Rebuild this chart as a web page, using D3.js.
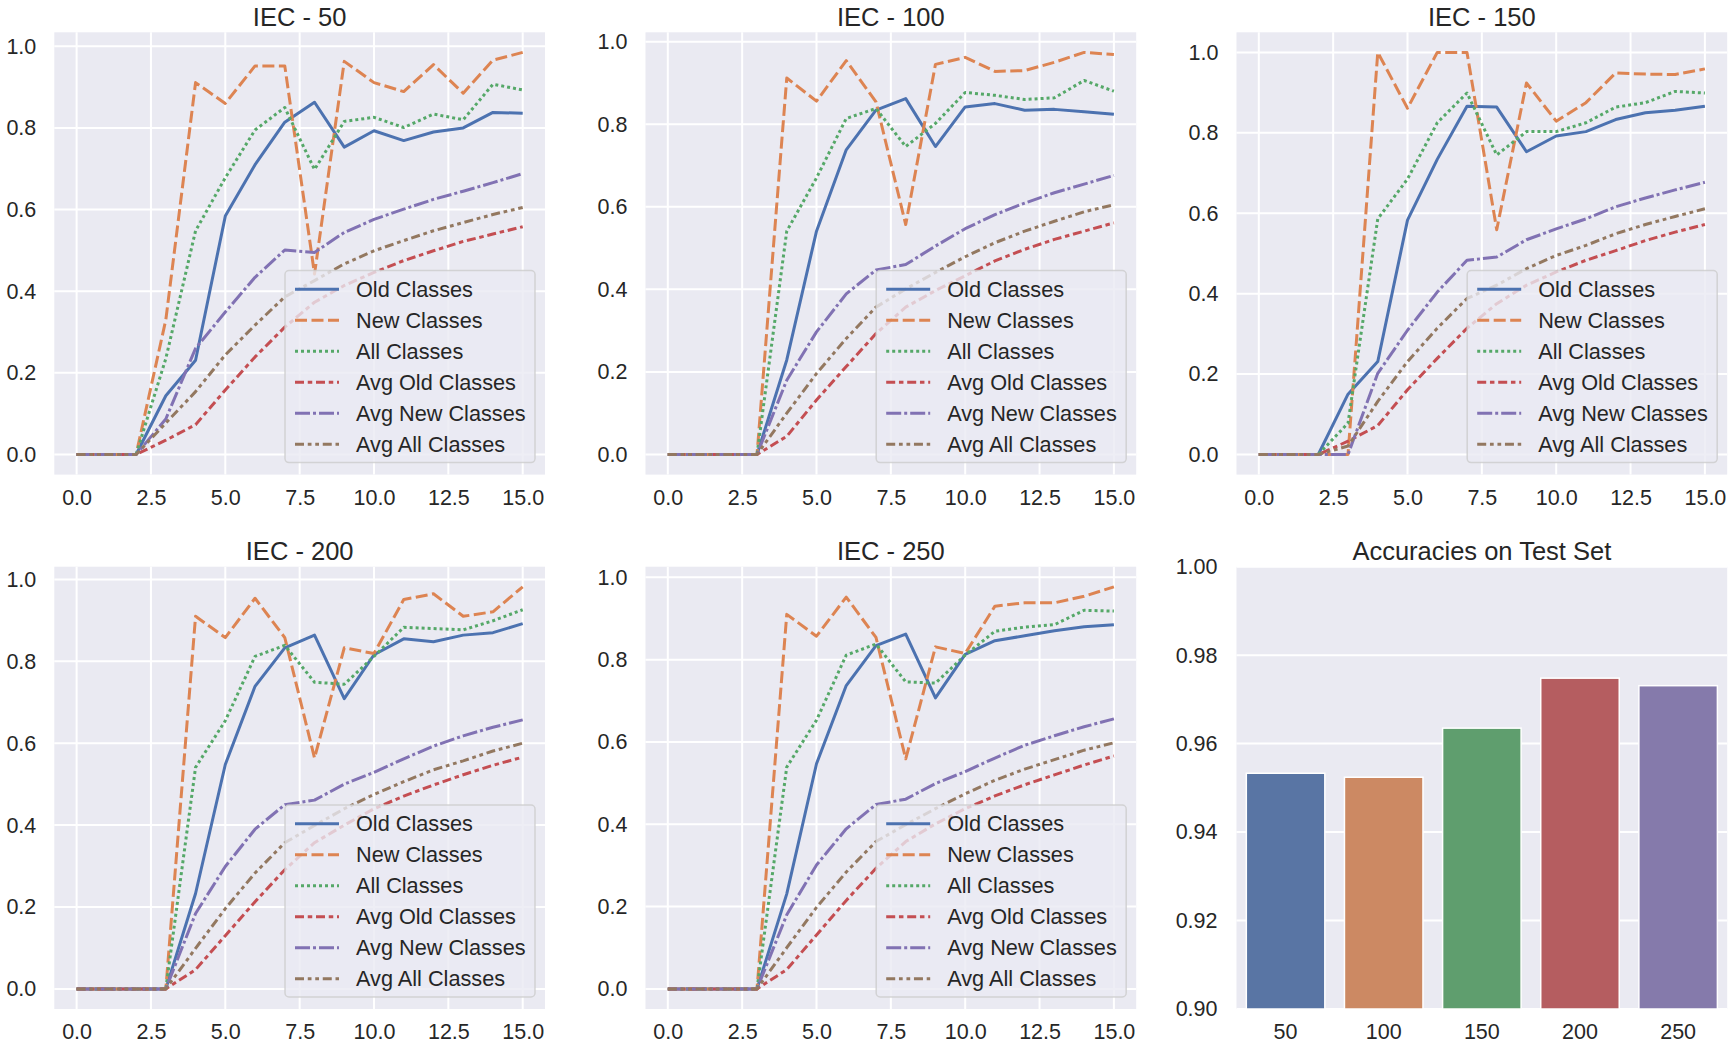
<!DOCTYPE html>
<html>
<head>
<meta charset="utf-8">
<script src="https://cdn.jsdelivr.net/npm/d3@7"></script>
<style>
  html, body { margin: 0; padding: 0; background: #ffffff; }
  svg { display: block; font-family: "Liberation Sans", Arial, sans-serif; }
</style>
</head>
<body>
<svg id="chart" width="1734" height="1052"></svg>
<script>
// ---------- data ----------
const steps = [0, 1, 2, 3, 4, 5, 6, 7, 8, 9, 10, 11, 12, 13, 14, 15];
const xTicks = [0, 2.5, 5, 7.5, 10, 12.5, 15];
const yTicks = [0, 0.2, 0.4, 0.6, 0.8, 1.0];
const seriesNames = ["Old Classes", "New Classes", "All Classes", "Avg Old Classes", "Avg New Classes", "Avg All Classes"];

const iec50Old    = [0,0,0,0.144,0.231,0.584,0.710,0.814,0.863,0.753,0.793,0.769,0.790,0.800,0.838,0.836];
const iec50New    = [0,0,0,0.330,0.911,0.860,0.952,0.952,0.442,0.963,0.911,0.889,0.955,0.885,0.966,0.985];
const iec50All    = [0,0,0,0.235,0.548,0.678,0.795,0.850,0.698,0.816,0.826,0.801,0.834,0.820,0.907,0.893];
const iec50AvgOld = [0,0,0,0.035,0.073,0.158,0.239,0.312,0.373,0.414,0.446,0.475,0.499,0.522,0.540,0.558];
const iec50AvgNew = [0,0,0,0.087,0.260,0.349,0.434,0.501,0.495,0.544,0.576,0.601,0.625,0.645,0.666,0.688];
const iec50AvgAll = [0,0,0,0.077,0.154,0.244,0.317,0.386,0.426,0.467,0.499,0.524,0.548,0.568,0.588,0.605];

const iec100Old    = [0,0,0,0,0.229,0.541,0.738,0.834,0.862,0.746,0.842,0.850,0.834,0.836,0.830,0.824];
const iec100New    = [0,0,0,0,0.912,0.856,0.954,0.854,0.557,0.945,0.962,0.928,0.930,0.950,0.974,0.969];
const iec100All    = [0,0,0,0,0.541,0.670,0.814,0.838,0.746,0.802,0.877,0.870,0.860,0.864,0.906,0.880];
const iec100AvgOld = [0,0,0,0,0.044,0.132,0.213,0.293,0.357,0.397,0.433,0.469,0.497,0.521,0.541,0.561];
const iec100AvgNew = [0,0,0,0,0.180,0.297,0.389,0.447,0.460,0.505,0.547,0.581,0.609,0.634,0.655,0.676];
const iec100AvgAll = [0,0,0,0,0.100,0.196,0.281,0.357,0.401,0.441,0.479,0.513,0.541,0.565,0.588,0.605];

const iec150Old    = [0,0,0,0.150,0.231,0.583,0.734,0.866,0.864,0.753,0.792,0.803,0.833,0.850,0.856,0.866];
const iec150New    = [0,0,0,0,1.000,0.861,1.000,1.000,0.559,0.924,0.829,0.875,0.949,0.946,0.945,0.959];
const iec150All    = [0,0,0,0.078,0.586,0.685,0.825,0.899,0.745,0.803,0.803,0.825,0.864,0.875,0.903,0.899];
const iec150AvgOld = [0,0,0,0.033,0.072,0.161,0.239,0.314,0.375,0.421,0.454,0.483,0.507,0.532,0.553,0.572];
const iec150AvgNew = [0,0,0,0,0.202,0.309,0.404,0.483,0.491,0.534,0.561,0.586,0.616,0.638,0.658,0.677];
const iec150AvgAll = [0,0,0,0.021,0.132,0.231,0.314,0.388,0.421,0.462,0.495,0.520,0.549,0.572,0.592,0.611];

const iec200Old    = [0,0,0,0,0.233,0.548,0.739,0.833,0.864,0.709,0.816,0.855,0.848,0.864,0.870,0.892];
const iec200New    = [0,0,0,0,0.910,0.858,0.954,0.858,0.564,0.833,0.819,0.951,0.965,0.910,0.921,0.982];
const iec200All    = [0,0,0,0,0.541,0.655,0.812,0.839,0.749,0.744,0.812,0.883,0.880,0.877,0.899,0.926];
const iec200AvgOld = [0,0,0,0,0.047,0.130,0.213,0.291,0.357,0.400,0.440,0.471,0.498,0.523,0.546,0.566];
const iec200AvgNew = [0,0,0,0,0.184,0.299,0.390,0.450,0.461,0.500,0.529,0.562,0.593,0.618,0.639,0.657];
const iec200AvgAll = [0,0,0,0,0.099,0.196,0.283,0.357,0.399,0.440,0.475,0.506,0.535,0.557,0.581,0.600];

const iec250Old    = [0,0,0,0,0.231,0.547,0.737,0.834,0.862,0.707,0.813,0.846,0.858,0.870,0.880,0.885];
const iec250New    = [0,0,0,0,0.910,0.857,0.952,0.854,0.559,0.831,0.815,0.930,0.938,0.938,0.954,0.977];
const iec250All    = [0,0,0,0,0.539,0.653,0.811,0.838,0.746,0.743,0.811,0.869,0.879,0.885,0.920,0.918];
const iec250AvgOld = [0,0,0,0,0.047,0.131,0.215,0.293,0.358,0.401,0.438,0.469,0.496,0.520,0.544,0.566];
const iec250AvgNew = [0,0,0,0,0.180,0.301,0.389,0.448,0.461,0.499,0.528,0.561,0.592,0.615,0.637,0.656];
const iec250AvgAll = [0,0,0,0,0.100,0.198,0.284,0.358,0.399,0.438,0.474,0.507,0.534,0.557,0.580,0.598];

const barCategories = ["50", "100", "150", "200", "250"];
const barValues = [0.9533, 0.9524, 0.9635, 0.9748, 0.9731];
const barTicks = [0.90, 0.92, 0.94, 0.96, 0.98, 1.00];

// ---------- styles ----------
const lineColors = ["#4c72b0", "#dd8452", "#55a868", "#c44e52", "#8172b3", "#937860"];
const barColors = ["#5975a4", "#cc8963", "#5f9e6e", "#b55d60", "#857aab"];
const LW = 3.0;
const dashUnits = [null, [4, 1.5], [1, 1], [3, 1.25, 1.5, 1.25], [5, 1, 1, 1], [3, 1.25, 1.25, 1.25, 1.25, 1.25]];
const dashArrays = dashUnits.map(d => d ? d.map(v => (v * LW).toFixed(2)).join(",") : null);

const panels = [
  { title: "IEC - 50",  col: 0, row: 0, series: [iec50Old, iec50New, iec50All, iec50AvgOld, iec50AvgNew, iec50AvgAll] },
  { title: "IEC - 100", col: 1, row: 0, series: [iec100Old, iec100New, iec100All, iec100AvgOld, iec100AvgNew, iec100AvgAll] },
  { title: "IEC - 150", col: 2, row: 0, series: [iec150Old, iec150New, iec150All, iec150AvgOld, iec150AvgNew, iec150AvgAll] },
  { title: "IEC - 200", col: 0, row: 1, series: [iec200Old, iec200New, iec200All, iec200AvgOld, iec200AvgNew, iec200AvgAll] },
  { title: "IEC - 250", col: 1, row: 1, series: [iec250Old, iec250New, iec250All, iec250AvgOld, iec250AvgNew, iec250AvgAll] }
];

// ---------- layout ----------
const colLeft = [54.3, 645.5, 1236.5];
const rowTop = [32.3, 566.7];
const PW = 490.7, PH = 442.3;
const BG = "#eaeaf2", TXT = "#262626";
const TICK_FS = 21.5, TITLE_FS = 25.5, LEG_FS = 21.7;
const FONT = '"Liberation Sans", Arial, sans-serif';

const svg = d3.select("#chart");
svg.append("rect").attr("width", 1734).attr("height", 1052).attr("fill", "#ffffff");

function drawFrame(g, title) {
  g.append("rect").attr("width", PW).attr("height", PH).attr("fill", BG);
  g.append("text").attr("x", PW / 2).attr("y", -15.6).attr("text-anchor", "middle")
    .attr("dy", "0.36em").attr("fill", TXT).attr("font-size", TITLE_FS).text(title);
}

function styleAxis(a) {
  a.select(".domain").remove();
  a.selectAll("text").attr("fill", TXT).attr("font-size", TICK_FS).attr("font-family", FONT);
}

panels.forEach(p => {
  const g = svg.append("g").attr("transform", `translate(${colLeft[p.col]},${rowTop[p.row]})`);
  drawFrame(g, p.title);

  const all = p.series.flat();
  const lo = d3.min(all), hi = d3.max(all), m = (hi - lo) * 0.05;
  const x = d3.scaleLinear().domain([-0.75, 15.75]).range([0, PW]);
  const y = d3.scaleLinear().domain([lo - m, hi + m]).range([PH, 0]);

  // grid
  const grid = g.append("g");
  grid.selectAll(".gx").data(xTicks).enter().append("line")
    .attr("x1", d => x(d)).attr("x2", d => x(d)).attr("y1", 0).attr("y2", PH)
    .attr("stroke", "#ffffff").attr("stroke-width", 2);
  grid.selectAll(".gy").data(yTicks).enter().append("line")
    .attr("x1", 0).attr("x2", PW).attr("y1", d => y(d)).attr("y2", d => y(d))
    .attr("stroke", "#ffffff").attr("stroke-width", 2);

  // axes (tick labels only)
  const xAxis = d3.axisBottom(x).tickValues(xTicks).tickSize(0).tickPadding(15).tickFormat(d3.format(".1f"));
  styleAxis(g.append("g").attr("transform", `translate(0,${PH})`).call(xAxis));
  const yAxis = d3.axisLeft(y).tickValues(yTicks).tickSize(0).tickPadding(18).tickFormat(d3.format(".1f"));
  styleAxis(g.append("g").call(yAxis));

  // lines
  const line = d3.line().x((d, i) => x(steps[i])).y(d => y(d));
  p.series.forEach((s, k) => {
    g.append("path").datum(s).attr("d", line).attr("fill", "none")
      .attr("stroke", lineColors[k]).attr("stroke-width", LW)
      .attr("stroke-linejoin", "round")
      .attr("stroke-dasharray", dashArrays[k]);
  });

  // legend
  const LWID = 250, LHT = 192;
  const lg = g.append("g").attr("transform", `translate(${PW - 10 - LWID},${PH - 12 - LHT})`);
  lg.append("rect").attr("width", LWID).attr("height", LHT).attr("rx", 4).attr("ry", 4)
    .attr("fill", BG).attr("fill-opacity", 0.8)
    .attr("stroke", "#cccccc").attr("stroke-opacity", 0.8).attr("stroke-width", 1.5);
  seriesNames.forEach((name, k) => {
    const cy = 18.7 + 31 * k;
    lg.append("line").attr("x1", 10).attr("x2", 54).attr("y1", cy).attr("y2", cy)
      .attr("stroke", lineColors[k]).attr("stroke-width", LW)
      .attr("stroke-dasharray", dashArrays[k]);
    lg.append("text").attr("x", 71).attr("y", cy).attr("dy", "0.35em")
      .attr("fill", TXT).attr("font-size", LEG_FS).text(name);
  });
});

// ---------- bar chart ----------
{
  const g = svg.append("g").attr("transform", `translate(${colLeft[2]},${rowTop[1]})`);
  drawFrame(g, "Accuracies on Test Set");
  const x = d3.scaleBand().domain(barCategories).range([0, PW]).paddingInner(0.2).paddingOuter(0.1);
  const y = d3.scaleLinear().domain([0.90, 1.00]).range([PH, 0]);

  g.append("g").selectAll("line").data(barTicks).enter().append("line")
    .attr("x1", 0).attr("x2", PW).attr("y1", d => y(d)).attr("y2", d => y(d))
    .attr("stroke", "#ffffff").attr("stroke-width", 2);

  g.append("g").selectAll("rect").data(barValues).enter().append("rect")
    .attr("x", (d, i) => x(barCategories[i]))
    .attr("width", x.bandwidth())
    .attr("y", d => y(d))
    .attr("height", d => PH - y(d))
    .attr("fill", (d, i) => barColors[i])
    .attr("stroke", "#ffffff").attr("stroke-width", 1.5);

  const xAxis = d3.axisBottom(x).tickSize(0).tickPadding(15);
  styleAxis(g.append("g").attr("transform", `translate(0,${PH})`).call(xAxis));
  const yAxis = d3.axisLeft(y).tickValues(barTicks).tickSize(0).tickPadding(19).tickFormat(d3.format(".2f"));
  styleAxis(g.append("g").call(yAxis));
}
</script>
</body>
</html>
